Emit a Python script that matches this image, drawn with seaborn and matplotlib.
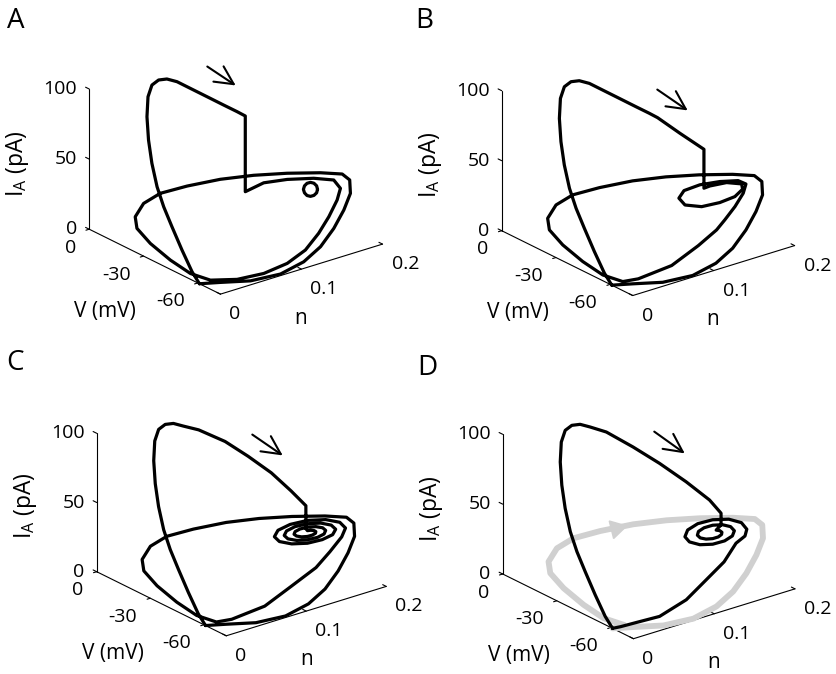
import numpy as np
import matplotlib
matplotlib.use("Agg")
import matplotlib.pyplot as plt
import seaborn as sns
from matplotlib.patches import FancyArrowPatch
from mpl_toolkits.mplot3d import proj3d

# ---------------- data (V in mV, n, I_A in pA) ----------------
# spike upstroke shared by all panels
SPIKE_V = [-60.9, -54.6, -46.8, -39.0, -32.2, -26.3, -21.2, -17.1, -14.0, -10.1, -7.8, -7.0, -7.1, -8.2]
SPIKE_N = [0.000, 0.005, 0.010, 0.015, 0.020, 0.025, 0.030, 0.035, 0.040, 0.050, 0.060, 0.070, 0.080, 0.090]
SPIKE_I = [0.0, 3.6, 13.2, 24.0, 33.0, 42.6, 55.2, 68.3, 82.0, 92.0, 97.1, 98.4, 97.4, 94.4]

# panel A: repolarisation ridge, drop, hook and first (inner) loop
A_RIDGE_V = [-11.1, -15.8, -22.8, -27.9, -32.5, -32.5, -38.2]
A_RIDGE_N = [0.100, 0.110, 0.115, 0.120, 0.120, 0.120, 0.130]
A_RIDGE_I = [89.7, 85.0, 82.6, 80.3, 80.1, 26.1, 34.3]
A_INNER_V = [-42.2, -47.9, -54.5, -58.2, -58.6, -58.5, -59.6, -65.7, -69.1, -69.6, -68.3]
A_INNER_N = [0.150, 0.170, 0.180, 0.180, 0.175, 0.165, 0.150, 0.120, 0.090, 0.060, 0.030]
A_INNER_I = [35.7, 36.6, 37.8, 34.2, 27.0, 16.8, 8.4, 5.7, 3.7, 2.2, 2.5]
A_CIRCLE_V = [-54.5, -54.0, -52.5, -50.6, -48.7, -47.3, -46.7, -47.3, -48.7, -50.6, -52.5, -54.0, -54.5]
A_CIRCLE_N = [0.16] * 13
A_CIRCLE_I = [34.7, 31.9, 29.1, 27.2, 26.6, 27.6, 29.7, 32.6, 35.3, 37.2, 37.8, 36.9, 34.7]

# large flat (subthreshold) loop shared by panels
LOOP_V = [-62.5, -53.7, -42.6, -30.2, -21.9, -18.7, -21.1, -25.8, -31.7, -36.6, -41.6, -46.6,
          -51.6, -54.7, -56.6, -57.0, -55.6, -59.0, -65.1, -71.5, -72.1, -71.2, -68.0, -60.9]
LOOP_N = [0.010, 0.005, 0.005, 0.008, 0.010, 0.015, 0.020, 0.030, 0.050, 0.080, 0.110, 0.140,
          0.170, 0.190, 0.195, 0.195, 0.190, 0.170, 0.140, 0.105, 0.075, 0.040, 0.010, 0.000]
LOOP_I = [1.8, 1.8, 4.3, 7.7, 12.8, 18.1, 28.3, 36.7, 42.1, 44.7, 45.4, 44.7,
          42.9, 40.4, 36.5, 27.2, 15.3, 7.9, 4.1, 3.7, 0.7, 1.5, 3.7, 0.0]

# shared descent from the spiral to the bottom (B, C)
EXIT_V = [-64.0, -62.7, -66.6]
EXIT_N = [0.10, 0.07, 0.02]
EXIT_I = [12.4, 2.7, 4.6]

# panel B
B_RIDGE_V = [-11.1, -15.8, -22.8, -27.9, -32.5, -40.4, -49.2, -49.2]
B_RIDGE_N = [0.100, 0.110, 0.115, 0.120, 0.120, 0.130, 0.140, 0.140]
B_RIDGE_I = [89.7, 85.0, 82.6, 80.3, 80.1, 72.2, 64.6, 36.8]
B_SPIRAL_V = [-46.7, -48.3, -49.9, -50.0, -49.3, -47.7, -45.7, -44.1, -43.4, -44.0, -45.6, -47.7,
              -49.3, -50.5, -49.9, -50.7, -51.8, -56.2]
B_SPIRAL_N = [0.153, 0.170, 0.185, 0.186, 0.178, 0.163, 0.145, 0.128, 0.122, 0.127, 0.143, 0.163,
              0.182, 0.189, 0.187, 0.175, 0.160, 0.140]
B_SPIRAL_I = [34.5, 34.9, 32.3, 28.4, 24.1, 21.5, 20.5, 23.7, 29.2, 34.1, 36.4, 36.5,
              34.8, 31.9, 25.3, 18.4, 12.3, 11.5]

# panel C
C_RIDGE_V = [-12.3, -22.6, -31.0, -39.5, -46.0, -49.9, -49.9]
C_RIDGE_N = [0.10, 0.11, 0.12, 0.13, 0.14, 0.15, 0.15]
C_RIDGE_I = [92.5, 88.9, 81.8, 73.5, 62.9, 52.8, 36.2]
C_SPIRAL_V = [-46.3, -48.2, -50.0, -51.0, -50.8, -49.1, -46.3, -43.0, -40.2, -38.8, -39.4, -42.1,
              -46.3, -51.0, -54.8, -56.5, -55.6, -51.9, -46.3, -40.3, -35.4, -33.3, -34.6, -39.3,
              -46.3, -53.7, -59.6, -62.1, -60.4, -54.6, -46.3, -37.5, -30.6, -27.8, -29.8, -36.6,
              -46.3, -56.5, -64.4, -67.6, -61.0, -61.1, -62.3]
C_SPIRAL_N = [0.16] * 40 + [0.170, 0.155, 0.135]
C_SPIRAL_I = [30.7, 32.2, 33.1, 33.0, 31.7, 29.3, 26.5, 24.1, 22.9, 23.3, 25.6, 29.2,
              33.2, 36.6, 38.2, 37.4, 34.2, 29.4, 24.1, 19.8, 17.8, 18.9, 23.0, 29.1,
              35.7, 40.9, 43.2, 41.8, 36.8, 29.5, 21.6, 15.5, 12.8, 14.5, 20.4, 29.0,
              38.1, 45.2, 48.3, 46.2, 33.8, 25.8, 18.7]

# panel D (black trajectory converging to the fixed point)
D_RIDGE_V = [-12.7, -23.0, -33.3, -43.5, -52.0, -53.9, -53.9]
D_RIDGE_N = [0.10, 0.11, 0.12, 0.13, 0.14, 0.15, 0.15]
D_RIDGE_I = [91.9, 86.0, 79.0, 70.6, 61.2, 51.2, 42.8]
D_SPIRAL_V = [-46.7, -48.7, -49.9, -49.7, -47.9, -44.8, -41.1, -37.9, -36.3, -36.9, -40.0,
              -44.8, -50.2, -54.7, -56.8, -55.7, -51.4, -44.8, -37.7, -31.9, -29.4, -30.9, -36.5,
              -44.8, -53.7, -60.7, -63.7]
D_SPIRAL_N = [0.16] * 27
D_SPIRAL_I = [32.7, 33.6, 33.2, 31.5, 28.6, 25.4, 22.7, 21.5, 22.4, 25.5, 30.1,
              35.0, 38.8, 40.3, 38.7, 34.3, 28.0, 21.4, 16.5, 14.8, 16.9, 22.7, 30.8,
              38.9, 45.0, 47.0, 44.2]
D_TAIL_V = [-51.5, -51.0, -51.1, -54.6, -61.5, -64.6, -65.2, -63.1, -60.9]
D_TAIL_N = [0.185, 0.175, 0.160, 0.130, 0.090, 0.050, 0.020, 0.005, 0.000]
D_TAIL_I = [27.1, 23.4, 12.8, 7.5, 4.8, 2.0, 3.4, 1.7, 0.0]
D_ARROW = (-33.9, 0.065, 42.8)

# axes
V_LIM = (0, -72.5)
N_LIM = (0, 0.2)
I_LIM = (0, 100)
I_TICKS = [0, 50, 100]
V_TICKS = [0, -30, -60]
V_TICKLABELS = ["0", "-30", "-60"]
N_TICKS = [0, 0.1, 0.2]
N_TICKLABELS = ["0", "0.1", "0.2"]

# ---------------- style ----------------
sns.set_theme(style="white")
plt.rcParams["font.family"] = ["Open Sans", "DejaVu Sans"]
plt.rcParams["mathtext.fontset"] = "custom"
plt.rcParams["mathtext.rm"] = "Open Sans"
plt.rcParams["mathtext.it"] = "Open Sans:italic"
plt.rcParams["text.color"] = "black"

W, H = 836, 674
fig = plt.figure(figsize=(W / 100, H / 100), dpi=100)
fig.patch.set_facecolor("white")

LW = 2.3
BLACK = "black"
GRAY = "#d0d0d0"
TICK_FS = 14
LABEL_FS = 15


def make_axes():
    ax = fig.add_axes([0.05, 0.05, 0.4, 0.4 * W / H], projection="3d", proj_type="ortho")
    ax.set_xticks([])
    ax.set_yticks([])
    ax.set_zticks([])
    ax.set_axis_off()
    ax.set_facecolor("none")
    ax.computed_zorder = False
    ax.set_xlim(*V_LIM)
    ax.set_ylim(*N_LIM)
    ax.set_zlim(*I_LIM)
    ax.set_box_aspect((211.6, 206.4, 152.2))
    ax.view_init(elev=23.0, azim=-38.3)
    return ax


def axis_lines(ax):
    k = dict(color="black", lw=0.8, zorder=1)
    ax.plot([0, 0], [0, 0], [I_LIM[0], I_LIM[1]], **k)
    ax.plot([V_LIM[0], V_LIM[1]], [0, 0], [0, 0], **k)
    ax.plot([V_LIM[1], V_LIM[1]], [N_LIM[0], N_LIM[1]], [0, 0], **k)
    for t in I_TICKS:
        ax.plot([0, 2.0], [0, 0], [t, t], **k)
    for t in V_TICKS:
        ax.plot([t, t], [0, -0.004], [0, 0], **k)
    for t in N_TICKS:
        ax.plot([V_LIM[1], V_LIM[1] + 2.0], [t, t], [0, 0], **k)


def traj(ax, V, N, I, color=BLACK, lw=LW, z=3):
    ax.plot(V, N, I, color=color, lw=lw, solid_joinstyle="round", solid_capstyle="round", zorder=z)


axA, axB, axC, axD = [make_axes() for _ in range(4)]
for ax in (axA, axB, axC, axD):
    axis_lines(ax)

# A
traj(axA, SPIKE_V + A_RIDGE_V + A_INNER_V + LOOP_V, SPIKE_N + A_RIDGE_N + A_INNER_N + LOOP_N,
     SPIKE_I + A_RIDGE_I + A_INNER_I + LOOP_I)
traj(axA, A_CIRCLE_V, A_CIRCLE_N, A_CIRCLE_I)
# B
traj(axB, SPIKE_V + B_RIDGE_V + B_SPIRAL_V + EXIT_V + LOOP_V,
     SPIKE_N + B_RIDGE_N + B_SPIRAL_N + EXIT_N + LOOP_N,
     SPIKE_I + B_RIDGE_I + B_SPIRAL_I + EXIT_I + LOOP_I)
# C
traj(axC, SPIKE_V + C_RIDGE_V + C_SPIRAL_V + EXIT_V + LOOP_V,
     SPIKE_N + C_RIDGE_N + C_SPIRAL_N + EXIT_N + LOOP_N,
     SPIKE_I + C_RIDGE_I + C_SPIRAL_I + EXIT_I + LOOP_I)
# D: gray loop behind, black trajectory on top
traj(axD, LOOP_V + LOOP_V[:1], LOOP_N + LOOP_N[:1], LOOP_I + LOOP_I[:1], color=GRAY, lw=4.2, z=2)
axD.plot([D_ARROW[0]], [D_ARROW[1]], [D_ARROW[2]], marker=(3, 0, -76), ms=15, color=GRAY,
         linestyle="none", zorder=2)
traj(axD, SPIKE_V + D_RIDGE_V + D_SPIRAL_V + D_TAIL_V, SPIKE_N + D_RIDGE_N + D_SPIRAL_N + D_TAIL_N,
     SPIKE_I + D_RIDGE_I + D_SPIRAL_I + D_TAIL_I)

# ---------------- layout: place each 3D box ----------------
TARGETS = [(axA, (89.2, 229.2), 140.2), (axB, (501.7, 230.7), 140.0),
           (axC, (96.7, 571.7), 138.4), (axD, (502.7, 574.0), 139.7)]


def to_disp(ax, x, y, z):
    xs, ys, _ = proj3d.proj_transform(x, y, z, ax.get_proj())
    return np.array(ax.transData.transform((xs, ys)))


fig.canvas.draw()
for ax, (ox, oy), length in TARGETS:
    p0 = to_disp(ax, 0, 0, 0)
    p1 = to_disp(ax, 0, 0, 100)
    pos = ax.get_position()
    L = np.array([pos.x0 * W, pos.y0 * H])
    S = np.array([pos.width * W, pos.height * H])
    q0 = (p0 - L) / S
    f = length / np.hypot(*(p1 - p0))
    S2 = S * f
    L2 = np.array([ox, H - oy]) - q0 * S2
    ax.set_position([L2[0] / W, L2[1] / H, S2[0] / W, S2[1] / H])
fig.canvas.draw()


def ftext(px, py, s, **kw):
    fig.text(px / W, py / H, s, color="black", **kw)


# tick labels and axis titles, anchored at the projected tick positions
for ax, _, _ in TARGETS:
    for t in I_TICKS:
        p = to_disp(ax, 0, 0, t)
        ftext(p[0] - 12, p[1], str(t), ha="right", va="center", fontsize=TICK_FS)
    for t, s in zip(V_TICKS, V_TICKLABELS):
        p = to_disp(ax, t, 0, 0)
        ftext(p[0] - 13, p[1] - 18.5, s, ha="right", va="center", fontsize=TICK_FS)
    for t, s in zip(N_TICKS, N_TICKLABELS):
        p = to_disp(ax, V_LIM[1], t, 0)
        ftext(p[0] + 9, p[1] - 20, s, ha="left", va="center", fontsize=TICK_FS)
    o = to_disp(ax, 0, 0, 0)
    fc = to_disp(ax, V_LIM[1], 0, 0)
    ftext(o[0] - 71.5, o[1] + 65.5, r"$\mathrm{I_A}$ (pA)", rotation=90, ha="center", va="center",
          fontsize=16.5)
    ftext(o[0] + 16, o[1] - 82, "V (mV)", ha="center", va="center", fontsize=LABEL_FS)
    ftext(fc[0] + 80, fc[1] - 24, "n", ha="center", va="center", fontsize=LABEL_FS)

# panel letters
for s, (x, y) in zip("ABCD", [(16, 21), (424, 21), (15, 363), (427, 368)]):
    ftext(x, H - y, s, ha="center", va="center", fontsize=20)

# direction arrows
for (x0, y0), (x1, y1) in [((205, 65), (238, 87)), ((655, 88), (690, 112)),
                           ((250, 433), (285, 457)), ((652, 430), (687, 455))]:
    fig.add_artist(FancyArrowPatch((x0 / W, 1 - y0 / H), (x1 / W, 1 - y1 / H),
                                   transform=fig.transFigure,
                                   arrowstyle="->,head_length=0.6,head_width=0.3",
                                   mutation_scale=22, lw=1.5, color="black"))

fig.savefig("out.png", dpi=100, facecolor="white")
